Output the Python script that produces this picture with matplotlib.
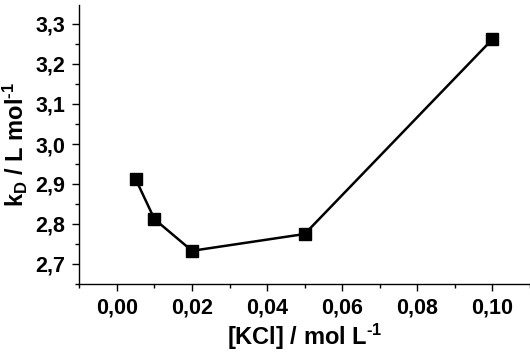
import matplotlib
matplotlib.use("Agg")
import matplotlib.pyplot as plt
from matplotlib.ticker import MultipleLocator, FuncFormatter

kcl = [0.005, 0.01, 0.02, 0.05, 0.10]
kd = [2.912, 2.812, 2.733, 2.775, 3.262]

plt.rcParams['font.family'] = ['Liberation Sans', 'DejaVu Sans']
plt.rcParams['font.weight'] = 'bold'
plt.rcParams['mathtext.fontset'] = 'custom'
plt.rcParams['mathtext.rm'] = 'Liberation Sans:bold'
plt.rcParams['mathtext.bf'] = 'Liberation Sans:bold'
plt.rcParams['mathtext.it'] = 'Liberation Sans:bold'
plt.rcParams['mathtext.default'] = 'bf'

fig = plt.figure(figsize=(5.30, 3.58), dpi=100)
ax = fig.add_axes([79/530, 1-284/358, (530-79)/530, (284-5)/358])
ax.plot(kcl, kd, color='black', lw=1.8, marker='s', ms=9, mfc='black', mec='black')
ax.set_xlim(-0.0101, 0.11)
ax.set_ylim(2.65, 3.3475)
ax.spines['top'].set_visible(False)
ax.spines['right'].set_visible(False)
for s in ('left', 'bottom'):
    ax.spines[s].set_linewidth(1.0)
ax.xaxis.set_major_locator(MultipleLocator(0.02))
ax.xaxis.set_minor_locator(MultipleLocator(0.01))
ax.yaxis.set_major_locator(MultipleLocator(0.1))
ax.yaxis.set_minor_locator(MultipleLocator(0.05))
ax.xaxis.set_major_formatter(FuncFormatter(lambda v, p: f"{v:.2f}".replace('.', ',').replace('-', '')))
ax.yaxis.set_major_formatter(FuncFormatter(lambda v, p: f"{v:.1f}".replace('.', ',')))
ax.tick_params(which='major', direction='out', length=5, width=1, labelsize=15.5, pad=5)
ax.tick_params(which='minor', direction='out', length=3, width=1)
for lab in ax.get_xticklabels() + ax.get_yticklabels():
    lab.set_fontweight('bold')
    lab.set_fontsize(15.5)
ax.set_xlabel(r"[KCl] / mol L$^{\text{-1}}$", fontsize=17, fontweight='bold', labelpad=2)
ax.set_ylabel(r"k$_{\text{D}}$ / L mol$^{\text{-1}}$", fontsize=17, fontweight='bold', labelpad=4)
fig.savefig("out.png", dpi=100)
